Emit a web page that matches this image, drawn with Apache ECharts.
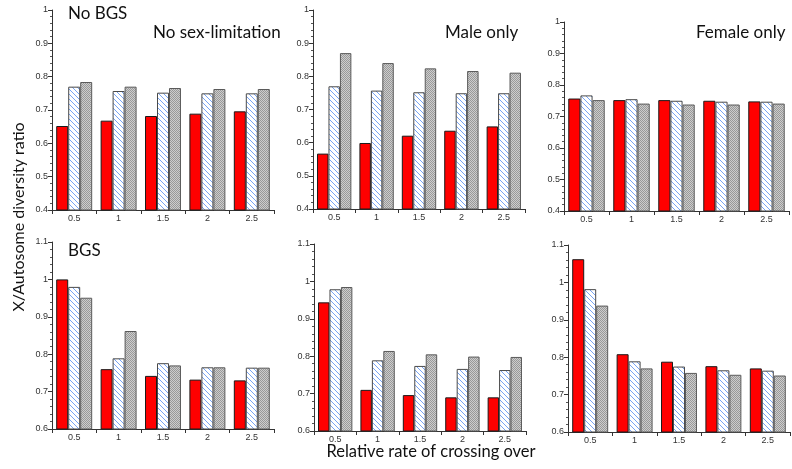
<!DOCTYPE html>
<html><head><meta charset="utf-8">
<script src="https://cdn.jsdelivr.net/npm/echarts@6/dist/echarts.min.js"></script>
<style>html,body{margin:0;padding:0;background:#fff}#c{width:792px;height:469px}</style>
</head><body><div id="c"></div>
<script>
// ---------- DATA ----------
const categories = ['0.5', '1', '1.5', '2', '2.5'];
const seriesNames = ['Red (solid)', 'Blue (hatched)', 'Grey (dotted)'];
const panelTitles = ['No sex-limitation', 'Male only', 'Female only'];
const rowTitles = ['No BGS', 'BGS'];
const topRowTicks = [0.4, 0.5, 0.6, 0.7, 0.8, 0.9, 1.0];
const bottomRowTicks = [0.6, 0.7, 0.8, 0.9, 1.0, 1.1];

// Row 1: No BGS
const noBgsNoSexRed   = [0.652, 0.668, 0.682, 0.689, 0.696];
const noBgsNoSexBlue  = [0.770, 0.757, 0.752, 0.750, 0.750];
const noBgsNoSexGrey  = [0.784, 0.770, 0.766, 0.763, 0.763];
const noBgsMaleRed    = [0.567, 0.599, 0.621, 0.636, 0.649];
const noBgsMaleBlue   = [0.770, 0.757, 0.752, 0.749, 0.749];
const noBgsMaleGrey   = [0.870, 0.840, 0.824, 0.816, 0.811];
const noBgsFemaleRed  = [0.757, 0.752, 0.752, 0.750, 0.748];
const noBgsFemaleBlue = [0.767, 0.755, 0.750, 0.747, 0.747];
const noBgsFemaleGrey = [0.752, 0.741, 0.738, 0.738, 0.741];

// Row 2: BGS
const bgsNoSexRed   = [1.000, 0.760, 0.742, 0.732, 0.730];
const bgsNoSexBlue  = [0.980, 0.789, 0.776, 0.765, 0.764];
const bgsNoSexGrey  = [0.951, 0.862, 0.770, 0.765, 0.764];
const bgsMaleRed    = [0.944, 0.710, 0.696, 0.690, 0.690];
const bgsMaleBlue   = [0.979, 0.789, 0.774, 0.766, 0.763];
const bgsMaleGrey   = [0.985, 0.814, 0.805, 0.799, 0.798];
const bgsFemaleRed  = [1.062, 0.808, 0.788, 0.776, 0.770];
const bgsFemaleBlue = [0.982, 0.789, 0.775, 0.765, 0.764];
const bgsFemaleGrey = [0.938, 0.770, 0.758, 0.753, 0.751];

const panelData = [
  [noBgsNoSexRed, noBgsNoSexBlue, noBgsNoSexGrey],
  [noBgsMaleRed, noBgsMaleBlue, noBgsMaleGrey],
  [noBgsFemaleRed, noBgsFemaleBlue, noBgsFemaleGrey],
  [bgsNoSexRed, bgsNoSexBlue, bgsNoSexGrey],
  [bgsMaleRed, bgsMaleBlue, bgsMaleGrey],
  [bgsFemaleRed, bgsFemaleBlue, bgsFemaleGrey]
];

// ---------- PATTERNS ----------
function hatchPattern() {
  const s = 5, c = document.createElement('canvas');
  c.width = s; c.height = s;
  const g = c.getContext('2d');
  g.fillStyle = '#ffffff'; g.fillRect(0, 0, s, s);
  g.strokeStyle = '#78a4f4'; g.lineWidth = 1;
  g.beginPath();
  g.moveTo(-1, -1); g.lineTo(s + 1, s + 1);
  g.moveTo(-1, s - 1); g.lineTo(1, s + 1);
  g.moveTo(s - 1, -1); g.lineTo(s + 1, 1);
  g.stroke();
  return c;
}
function dotPattern() {
  const c = document.createElement('canvas');
  c.width = 2; c.height = 2;
  const g = c.getContext('2d');
  g.fillStyle = '#cdcdcd'; g.fillRect(0, 0, 2, 2);
  g.fillStyle = '#999999'; g.fillRect(0, 0, 1, 1); g.fillRect(1, 1, 1, 1);
  return c;
}
const hatchImg = hatchPattern();
const dotImg = dotPattern();
const barStyles = [
  { color: '#ff0000', borderColor: '#1a1a1a', borderWidth: 1 },
  { color: { image: hatchImg, repeat: 'repeat' }, borderColor: '#4a4a4a', borderWidth: 1 },
  { color: { image: dotImg, repeat: 'repeat' }, borderColor: '#5a5a5a', borderWidth: 1 }
];

// ---------- LAYOUT ----------
const grids = [
  { left: 52, top: 10, width: 222, height: 200 },
  { left: 313, top: 10, width: 212, height: 199 },
  { left: 564, top: 22, width: 225, height: 189 },
  { left: 52, top: 242, width: 222, height: 187 },
  { left: 314, top: 244, width: 212, height: 187 },
  { left: 568, top: 245, width: 222, height: 187 }
];

const axisCol = '#333';
const xAxes = [], yAxes = [], series = [];
grids.forEach((gr, i) => {
  const top = i < 3;
  const ticks = top ? topRowTicks : bottomRowTicks;
  xAxes.push({
    type: 'category', gridIndex: i, data: categories,
    axisLine: { lineStyle: { color: axisCol, width: 1 } },
    axisTick: { show: true, alignWithLabel: false, length: 4, lineStyle: { color: axisCol } },
    axisLabel: { fontSize: 9, color: '#333', margin: 4, fontFamily: 'Liberation Sans' },
    splitLine: { show: false }
  });
  yAxes.push({
    type: 'value', gridIndex: i,
    min: ticks[0], max: ticks[ticks.length - 1], interval: 0.1,
    axisLine: { show: true, lineStyle: { color: axisCol, width: 1 } },
    axisTick: { show: true, length: 4, lineStyle: { color: axisCol } },
    minorTick: { show: true, splitNumber: 5, length: 2, lineStyle: { color: '#555' } },
    axisLabel: { fontSize: 9, color: '#333', margin: 4, fontFamily: 'Liberation Sans',
      formatter: v => String(+(+v).toFixed(1)) },
    splitLine: { show: false }
  });
  panelData[i].forEach((arr, k) => {
    series.push({
      type: 'bar', name: seriesNames[k], xAxisIndex: i, yAxisIndex: i,
      data: arr, barGap: '0%', barCategoryGap: '19%',
      itemStyle: barStyles[k], silent: true, animation: false
    });
  });
});

const txt = (text, left, top, size) => ({
  text, left, top, padding: 0,
  textStyle: { fontFamily: 'Lato', fontWeight: 'normal', fontSize: size, color: '#111' }
});

const option = {
  animation: false,
  backgroundColor: '#fff',
  grid: grids,
  xAxis: xAxes,
  yAxis: yAxes,
  series,
  title: [
    txt(rowTitles[0], 68, 5, 17),
    txt(panelTitles[0], 153, 24, 17),
    txt(panelTitles[1], 445, 24, 17),
    txt(panelTitles[2], 696, 24, 17),
    txt(rowTitles[1], 68, 242, 17)
  ],
  graphic: [
    { type: 'text', x: 11, y: 217, rotation: Math.PI / 2,
      style: { text: 'X/Autosome diversity ratio', font: '16px Lato', fill: '#111',
               align: 'center', verticalAlign: 'top' } },
    { type: 'text', x: 431, y: 443,
      style: { text: 'Relative rate of crossing over', font: '16.5px Lato', fill: '#111',
               align: 'center', verticalAlign: 'top' } }
  ]
};
const chart = echarts.init(document.getElementById('c'), null, { renderer: 'canvas' });
chart.setOption(option);
</script></body></html>
